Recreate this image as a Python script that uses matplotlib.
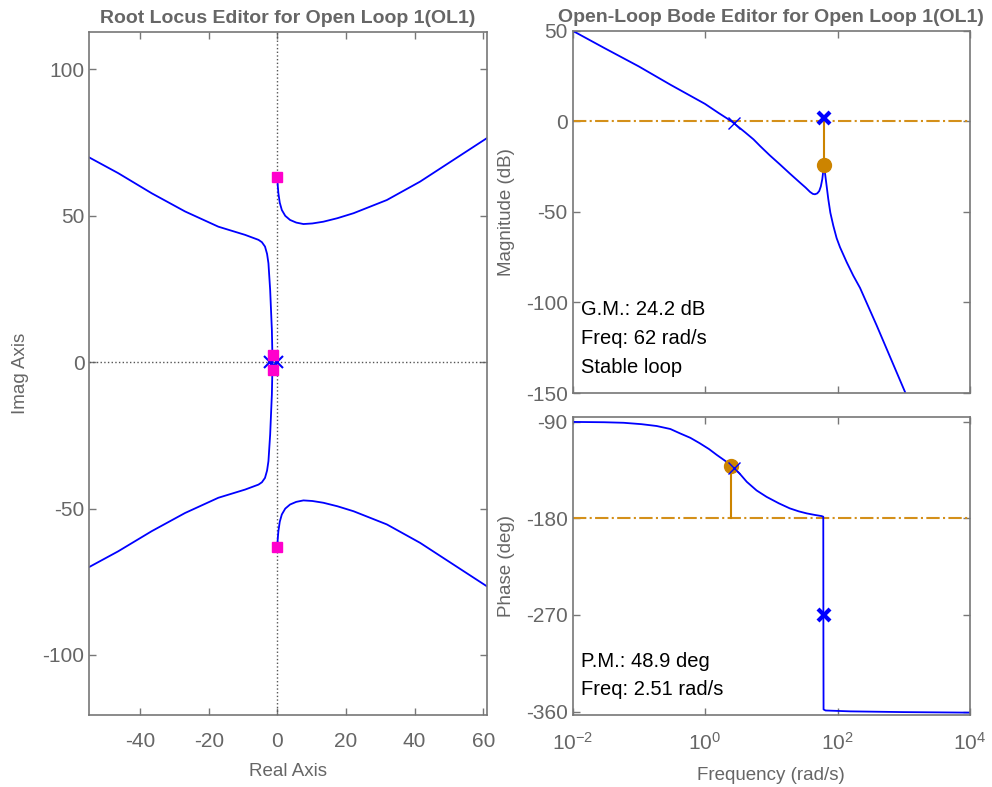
import matplotlib
matplotlib.use("Agg")
import matplotlib.pyplot as plt
import numpy as np

plt.rcParams['font.family'] = ['Liberation Sans', 'DejaVu Sans']
plt.rcParams['axes.unicode_minus'] = False
plt.rcParams['mathtext.fontset'] = 'custom'
plt.rcParams['mathtext.rm'] = 'Liberation Sans'
plt.rcParams['mathtext.it'] = 'Liberation Sans'
plt.rcParams['mathtext.default'] = 'regular'

# ---------------- data ----------------
# Root locus branches (upper half; lower half is the mirror image)
rl_left_x = [-54.9, -46.4, -36.6, -26.9, -17.2, -9.4, -5.5, -4.5, -3.6, -3.0, -2.6, -2.1, -1.6, -1.45, -1.4]
rl_left_y = [70.0, 64.6, 57.7, 51.5, 46.3, 43.5, 41.8, 41.0, 39.5, 37.0, 33.8, 24.7, 11.0, 2.5, 0.0]
rl_right_x = [0.0, 0.1, 0.3, 0.7, 1.3, 2.3, 3.7, 5.5, 7.6, 10.2, 13.4, 17.5, 22.2, 31.9, 41.6, 51.3, 61.0]
rl_right_y = [63.2, 60.5, 57.7, 54.5, 52.0, 50.0, 48.6, 47.7, 47.2, 47.4, 48.0, 49.2, 50.9, 55.4, 61.7, 69.1, 76.5]
cl_poles_re = [0.0, 0.0, -1.4, -1.4]
cl_poles_im = [63.2, -63.2, 2.5, -2.5]
ol_poles_re = [-2.0, 0.0]
ol_poles_im = [0.0, 0.0]
ol_zero_re = [-1.4]
ol_zero_im = [0.0]

# Bode magnitude (rad/s, dB)
mag_w = [0.01, 0.03, 0.1, 0.3, 1.0, 1.6, 2.51, 4.0, 5.4, 6.8, 9.5, 13.5, 19.0, 27.0, 33.0,
         38.5, 42.5, 45.7, 49.5, 53.0, 56.0, 58.9, 60.5, 61.5, 62.0,
         62.6, 64.7, 68.7, 72.6, 78.0, 86.5, 97.0, 109.0, 137.7, 173.0, 219.0, 389.0, 1047.0]
mag_db = [50.0, 40.5, 30.3, 20.2, 9.6, 4.6, 0.0, -6.0, -10.0, -13.7, -18.8, -23.8, -28.8, -33.8, -36.6,
          -39.0, -40.1, -40.3, -39.8, -38.5, -36.0, -32.0, -28.5, -25.5, -24.2,
          -25.5, -28.5, -36.0, -43.0, -50.5, -57.7, -64.5, -69.5, -77.8, -85.2, -92.0, -112.6, -149.5]

# Bode phase (rad/s, deg)
ph_w = [0.01, 0.03, 0.059, 0.11, 0.186, 0.3, 0.417, 0.6, 0.83, 1.15, 1.51, 2.0, 2.51, 3.3, 4.27,
        6.0, 8.5, 13.0, 19.0, 26.0, 34.3, 45.0, 57.5, 61.0, 61.3, 61.6, 66.0, 155.0, 1000.0, 10000.0]
ph_deg = [-90.2, -90.5, -91.0, -92.3, -94.0, -96.8, -100.8, -105.0, -110.0, -115.5, -121.0, -126.3, -131.1, -138.0, -146.0,
          -154.0, -160.0, -166.0, -170.7, -173.5, -175.4, -176.8, -177.9, -178.5, -300.0, -358.0, -359.0, -359.8, -360.5, -361.0]

# Margins
gm_freq = 62.0
gm_db = -24.2
gm_pole_db = 2.0
pm_freq = 2.51
pm_phase = -131.1
pole_phase = -270.0
cross_w = 2.7
cross_db = -1.0

mag_ticks = [50, 0, -50, -100, -150]
ph_ticks = [-90, -180, -270, -360]
freq_ticks = [1e-2, 1e0, 1e2, 1e4]
freq_labels = ['$10^{-2}$', '$10^{0}$', '$10^{2}$', '$10^{4}$']
re_ticks = [-40, -20, 0, 20, 40, 60]
im_ticks = [-100, -50, 0, 50, 100]

# ---------------- style ----------------
GRAY = '#666666'
SPINE = '#777777'
BLUE = '#0000ff'
PINK = '#ff00cc'
ORANGE = '#d4901a'
ORANGE_D = '#cc8400'
TICKFS = 15
LABFS = 13.5
TXTFS = 14.5

fig = plt.figure(figsize=(9.92, 7.87), dpi=100)
W, H = 992.0, 787.0

def ax_at(x0, y0, x1, y1):
    return fig.add_axes([x0 / W, 1 - y1 / H, (x1 - x0) / W, (y1 - y0) / H])

def style(ax):
    for s in ax.spines.values():
        s.set_color(SPINE)
        s.set_linewidth(1.2)
    ax.tick_params(direction='in', which='both', top=True, right=True, colors=SPINE,
                   labelcolor=GRAY, labelsize=TICKFS, length=5, width=1)
    ax.tick_params(axis='x', pad=12)
    ax.tick_params(which='minor', length=0)

# ---------------- root locus ----------------
ax1 = ax_at(89.3, 31.7, 486.7, 715)
style(ax1)
ax1.axhline(0, color='#555555', ls=':', lw=1)
ax1.axvline(0, color='#555555', ls=':', lw=1)
ax1.plot(rl_left_x, rl_left_y, color=BLUE, lw=1.3)
ax1.plot(rl_left_x, [-v for v in rl_left_y], color=BLUE, lw=1.3)
ax1.plot(rl_right_x, rl_right_y, color=BLUE, lw=1.3)
ax1.plot(rl_right_x, [-v for v in rl_right_y], color=BLUE, lw=1.3)
ax1.plot(ol_poles_re, ol_poles_im, 'x', color=BLUE, ms=9, mew=1.5)
ax1.plot(ol_zero_re, ol_zero_im, 'o', color=BLUE, ms=5, mfc='none', mew=1)
ax1.plot(cl_poles_re, cl_poles_im, 's', color=PINK, ms=7, mec=PINK)
ax1.set_xlim(-54.8, 61.0)
ax1.set_ylim(-120.5, 112.9)
ax1.set_xticks(re_ticks)
ax1.set_yticks(im_ticks)
ax1.set_xlabel('Real Axis', color=GRAY, fontsize=LABFS, labelpad=9)
ax1.set_ylabel('Imag Axis', color=GRAY, fontsize=LABFS, labelpad=10)
ax1.set_title('Root Locus Editor for Open Loop 1(OL1)', color=GRAY, fontsize=14,
              fontweight='bold', pad=6)

# ---------------- bode magnitude ----------------
ax2 = ax_at(572.5, 30.7, 970, 393)
style(ax2)
ax2.set_xscale('log')
ax2.axhline(0, color=ORANGE, ls='-.', lw=1.5)
ax2.plot(mag_w, mag_db, color=BLUE, lw=1.3)
ax2.plot([gm_freq, gm_freq], [gm_db, 0], color=ORANGE_D, lw=1.5)
ax2.plot([gm_freq], [gm_db], 'o', color=ORANGE_D, ms=10)
ax2.plot([gm_freq], [gm_pole_db], 'x', color=BLUE, ms=9, mew=3)
ax2.plot([cross_w], [cross_db], 'x', color=BLUE, ms=8, mew=1)
ax2.set_xlim(1e-2, 1e4)
ax2.set_ylim(-150, 50)
ax2.set_xticks(freq_ticks)
ax2.set_xticklabels([])
ax2.set_yticks(mag_ticks)
ax2.set_ylabel('Magnitude (dB)', color=GRAY, fontsize=LABFS, labelpad=8)
ax2.set_title('Open-Loop Bode Editor for Open Loop 1(OL1)', color=GRAY, fontsize=14,
              fontweight='bold', pad=6)
ax2.text(0.022, 0.23, 'G.M.: 24.2 dB', transform=ax2.transAxes, fontsize=TXTFS, va='center')
ax2.text(0.022, 0.15, 'Freq: 62 rad/s', transform=ax2.transAxes, fontsize=TXTFS, va='center')
ax2.text(0.022, 0.07, 'Stable loop', transform=ax2.transAxes, fontsize=TXTFS, va='center')

# ---------------- bode phase ----------------
ax3 = ax_at(572.5, 417.3, 970, 715)
style(ax3)
ax3.set_xscale('log')
ax3.axhline(-180, color=ORANGE, ls='-.', lw=1.5)
ax3.plot(ph_w, ph_deg, color=BLUE, lw=1.3)
ax3.plot([pm_freq, pm_freq], [-180, pm_phase], color=ORANGE_D, lw=1.5)
ax3.plot([pm_freq], [pm_phase], 'o', color=ORANGE_D, ms=10)
ax3.plot([cross_w], [pm_phase - 2], 'x', color=BLUE, ms=8, mew=1)
ax3.plot([gm_freq], [pole_phase], 'x', color=BLUE, ms=9, mew=3)
ax3.set_xlim(1e-2, 1e4)
ax3.set_ylim(-363.2, -85.9)
ax3.set_xticks(freq_ticks)
ax3.set_xticklabels(freq_labels)
ax3.set_yticks(ph_ticks)
ax3.set_ylabel('Phase (deg)', color=GRAY, fontsize=LABFS, labelpad=8)
ax3.set_xlabel('Frequency (rad/s)', color=GRAY, fontsize=LABFS, labelpad=10)
ax3.text(0.022, 0.18, 'P.M.: 48.9 deg', transform=ax3.transAxes, fontsize=TXTFS, va='center')
ax3.text(0.022, 0.085, 'Freq: 2.51 rad/s', transform=ax3.transAxes, fontsize=TXTFS, va='center')

fig.savefig('out.png', dpi=100)
